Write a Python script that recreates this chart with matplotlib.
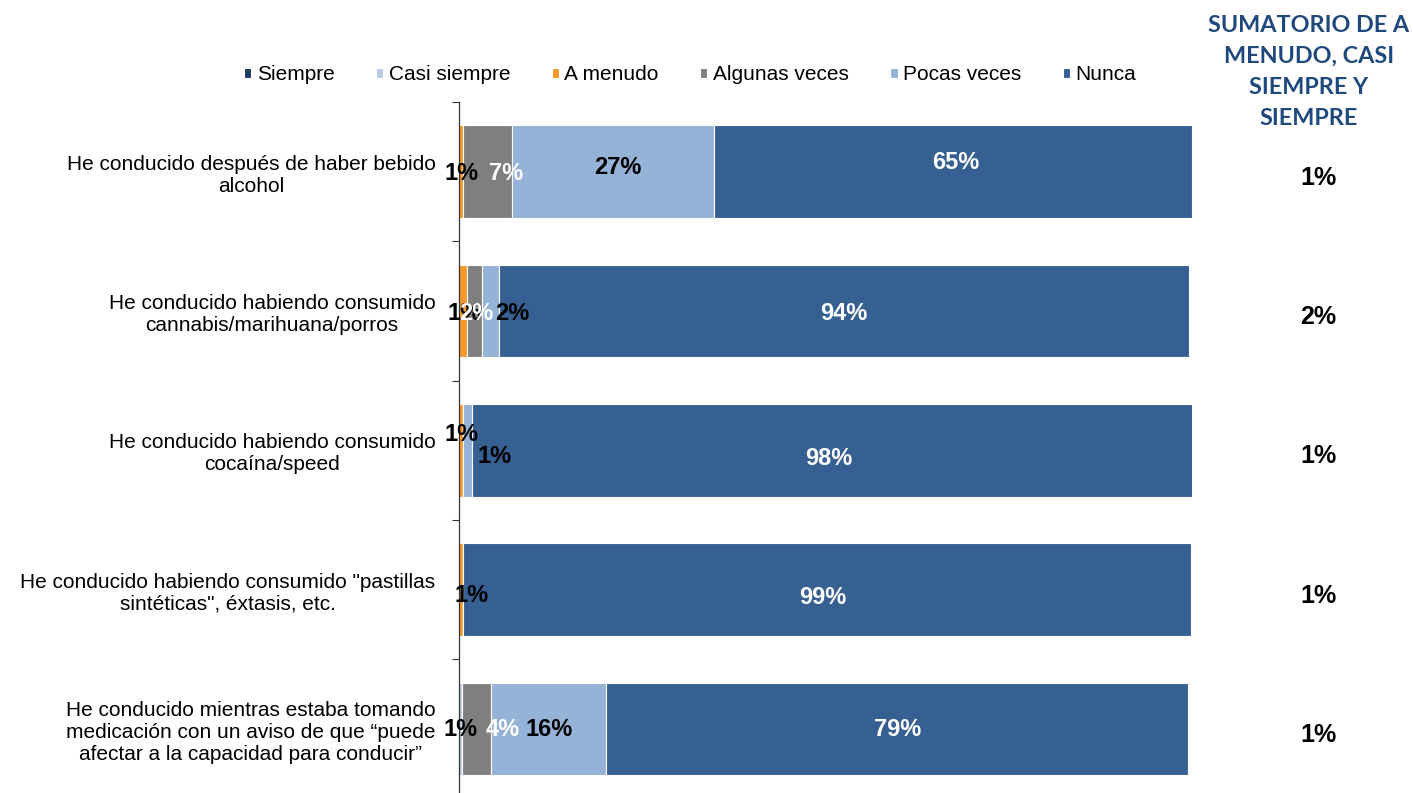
import matplotlib
matplotlib.use("Agg")
import matplotlib.pyplot as plt
from matplotlib.transforms import blended_transform_factory
import numpy as np

categories = [
    "He conducido después de haber bebido\nalcohol",
    "He conducido habiendo consumido\ncannabis/marihuana/porros",
    "He conducido habiendo consumido\ncocaína/speed",
    "He conducido habiendo consumido \"pastillas\nsintéticas\", éxtasis, etc.",
    "He conducido mientras estaba tomando\nmedicación con un aviso de que “puede\nafectar a la capacidad para conducir”",
]
series_names = ["Siempre", "Casi siempre", "A menudo", "Algunas veces", "Pocas veces", "Nunca"]
siempre = [0.0, 0.0, 0.0, 0.0, 0.0]
casi_siempre = [0.0, 0.0, 0.0, 0.0, 0.4]
a_menudo = [0.5, 1.1, 0.5, 0.5, 0.0]
algunas_veces = [6.7, 2.0, 0.0, 0.0, 4.0]
pocas_veces = [27.6, 2.4, 1.3, 0.0, 15.7]
nunca = [65.2, 94.1, 98.5, 99.4, 79.4]

labels_siempre = ["", "", "", "", ""]
labels_casi = ["", "", "", "", "1%"]
labels_menudo = ["1%", "1%", "1%", "1%", ""]
labels_algunas = ["7%", "2%", "", "", "4%"]
labels_pocas = ["27%", "2%", "1%", "", "16%"]
labels_nunca = ["65%", "94%", "98%", "99%", "79%"]
sumatorio = ["1%", "2%", "1%", "1%", "1%"]
sum_title = "SUMATORIO DE A\nMENUDO, CASI\nSIEMPRE Y\nSIEMPRE"

colors = ["#1F3864", "#B9CDE5", "#F7982A", "#7F7F7F", "#95B3D7", "#376092"]
text_colors = ["white", "black", "black", "white", "black", "white"]

# label nudges in pixels (dx, dy) - layout only
nudges = {
    (0, 2): (1, 2), (0, 3): (19, 2), (0, 4): (5, -4), (0, 5): (3, -9),
    (1, 2): (2, 3), (1, 3): (2, 3), (1, 4): (22, 3), (1, 5): (0, 3),
    (2, 2): (1, -16), (2, 4): (27, 6), (2, 5): (-4, 8),
    (3, 2): (11, 6), (3, 5): (-4, 8),
    (4, 1): (0, 1), (4, 3): (26, 1), (4, 4): (0, 1), (4, 5): (0, 1),
}

plt.rcParams['font.family'] = ['Liberation Sans', 'DejaVu Sans']

fig = plt.figure(figsize=(14.13, 7.93), dpi=100)
ax = fig.add_axes([459/1413, 1 - 798.5/793, 733/1413, 696.5/793])

data = [siempre, casi_siempre, a_menudo, algunas_veces, pocas_veces, nunca]
labels = [labels_siempre, labels_casi, labels_menudo, labels_algunas, labels_pocas, labels_nunca]
y = np.arange(len(categories))
left = np.zeros(len(categories))
handles = []
for si, (vals, name, col) in enumerate(zip(data, series_names, colors)):
    vals = np.array(vals)
    h = ax.barh(y, vals, left=left, height=0.665, color=col, edgecolor="white",
                linewidth=0.8, label=name)
    handles.append(h)
    for ri in range(len(categories)):
        t = labels[si][ri]
        if t:
            dx, dy = nudges.get((ri, si), (0, 0))
            ax.annotate(t, (left[ri] + vals[ri] / 2, y[ri]), xytext=(dx * 0.72, -dy * 0.72),
                        textcoords="offset points", ha="center", va="center",
                        fontsize=17, fontweight="bold", color=text_colors[si],
                        annotation_clip=False)
    left = left + vals

ax.set_xlim(0, 100)
ax.set_ylim(len(categories) - 0.5, -0.5)
ax.set_yticks(y)
ax.set_yticklabels(categories, fontsize=15, ha="right", multialignment="center")
ax.tick_params(axis="y", which="major", length=0, pad=17)
ax.set_yticks(np.arange(-0.5, len(categories), 1.0), minor=True)
ax.tick_params(axis="y", which="minor", length=5, width=0.8, color="#333333", direction="out")
ax.xaxis.set_visible(False)
for s in ["top", "right", "bottom"]:
    ax.spines[s].set_visible(False)
ax.spines["left"].set_color("#333333")
ax.spines["left"].set_linewidth(0.9)

trans = blended_transform_factory(fig.transFigure, ax.transData)
for ri, t in enumerate(sumatorio):
    ax.annotate(t, (1318/1413, y[ri]), xycoords=trans, xytext=(0, -6 * 0.72),
                textcoords="offset points", ha="center", va="center",
                fontsize=18, fontweight="bold", color="black", annotation_clip=False)

fig.text(1309/1413, 1 - 72/793, sum_title, ha="center", va="center", fontsize=16.8,
         fontweight="bold", color="#1F497D", family=["Lato", "DejaVu Sans"],
         linespacing=1.58, multialignment="center")

fig.legend(handles=handles, labels=series_names, loc="center", bbox_to_anchor=(690/1413, 1 - 75/793),
           ncol=6, frameon=False, fontsize=15, handlelength=0.35, handleheight=0.35,
           handletextpad=0.25, columnspacing=2.0, borderaxespad=0)

fig.savefig("out.png", dpi=100)
